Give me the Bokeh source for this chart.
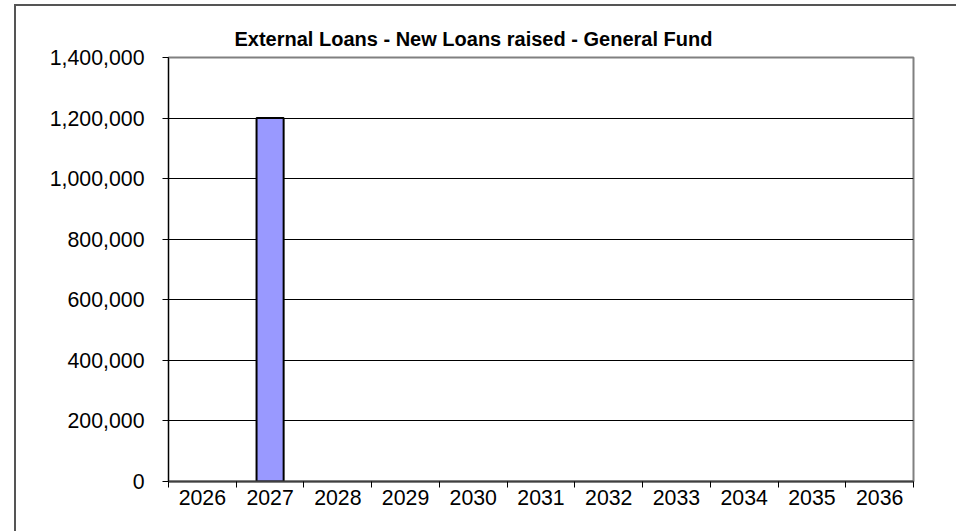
from bokeh.plotting import figure
from bokeh.models import Range1d, FixedTicker, NumeralTickFormatter, ColumnDataSource
from bokeh.embed import file_html
from bokeh.resources import INLINE

# ---- data ----
years = ["2026", "2027", "2028", "2029", "2030", "2031", "2032", "2033", "2034", "2035", "2036"]
new_loans = [0, 1200000, 0, 0, 0, 0, 0, 0, 0, 0, 0]
y_ticks = [0, 200000, 400000, 600000, 800000, 1000000, 1200000, 1400000]
title_text = "External Loans - New Loans raised - General Fund"

FONT = "Liberation Sans"

n = len(years)
centers = [i + 0.5 for i in range(n)]
bounds = list(range(n + 1))

src = ColumnDataSource(dict(
    x=[c for c, v in zip(centers, new_loans) if v != 0],
    top=[v for v in new_loans if v != 0],
))

p = figure(width=942, height=527, output_backend="svg", toolbar_location=None,
           x_range=Range1d(0, n), y_range=Range1d(y_ticks[0], y_ticks[-1]),
           min_border_left=152, min_border_right=45, min_border_top=51, min_border_bottom=52)

p.vbar(x="x", top="top", bottom=0, width=0.4, source=src,
       fill_color="#9999FF", line_color="black", line_width=2)

p.title.text = title_text
p.title.text_font = FONT
p.title.text_font_size = "20px"
p.title.text_font_style = "bold"
p.title.align = "left"
p.title.offset = 66
p.title.standoff = 15
p.title.text_color = "black"

p.background_fill_color = "white"
p.border_fill_color = "white"
p.outline_line_color = "#808080"
p.outline_line_width = 2

# grid
p.xgrid.grid_line_color = None
p.ygrid.ticker = FixedTicker(ticks=y_ticks[1:-1])
p.ygrid.grid_line_color = "black"
p.ygrid.grid_line_width = 1

# y axis
ya = p.yaxis[0]
ya.ticker = FixedTicker(ticks=y_ticks)
ya.formatter = NumeralTickFormatter(format="0,0")
ya.axis_line_color = "black"
ya.axis_line_width = 1
ya.major_tick_line_color = "black"
ya.major_tick_out = 6
ya.major_tick_in = 0
ya.minor_tick_line_color = None
ya.major_label_standoff = 18
ya.major_label_text_font = FONT
ya.major_label_text_font_size = "21.3px"
ya.major_label_text_color = "black"

# x axis
xa = p.xaxis[0]
xa.ticker = FixedTicker(ticks=centers, minor_ticks=bounds)
xa.major_label_overrides = {c: y for c, y in zip(centers, years)}
xa.axis_line_color = "#404040"
xa.axis_line_width = 2
xa.major_tick_line_color = None
xa.minor_tick_line_color = "black"
xa.minor_tick_out = 6
xa.minor_tick_in = 0
xa.major_label_standoff = 2
xa.major_label_text_font = FONT
xa.major_label_text_font_size = "21.3px"
xa.major_label_text_color = "black"

# outer chart border (left and top edges visible in the reference)
p.styles = {"border-left": "2px solid #555555", "border-top": "2px solid #555555",
            "margin-left": "14px", "margin-top": "4px"}

open("out.html", "w").write(file_html(p, INLINE))
